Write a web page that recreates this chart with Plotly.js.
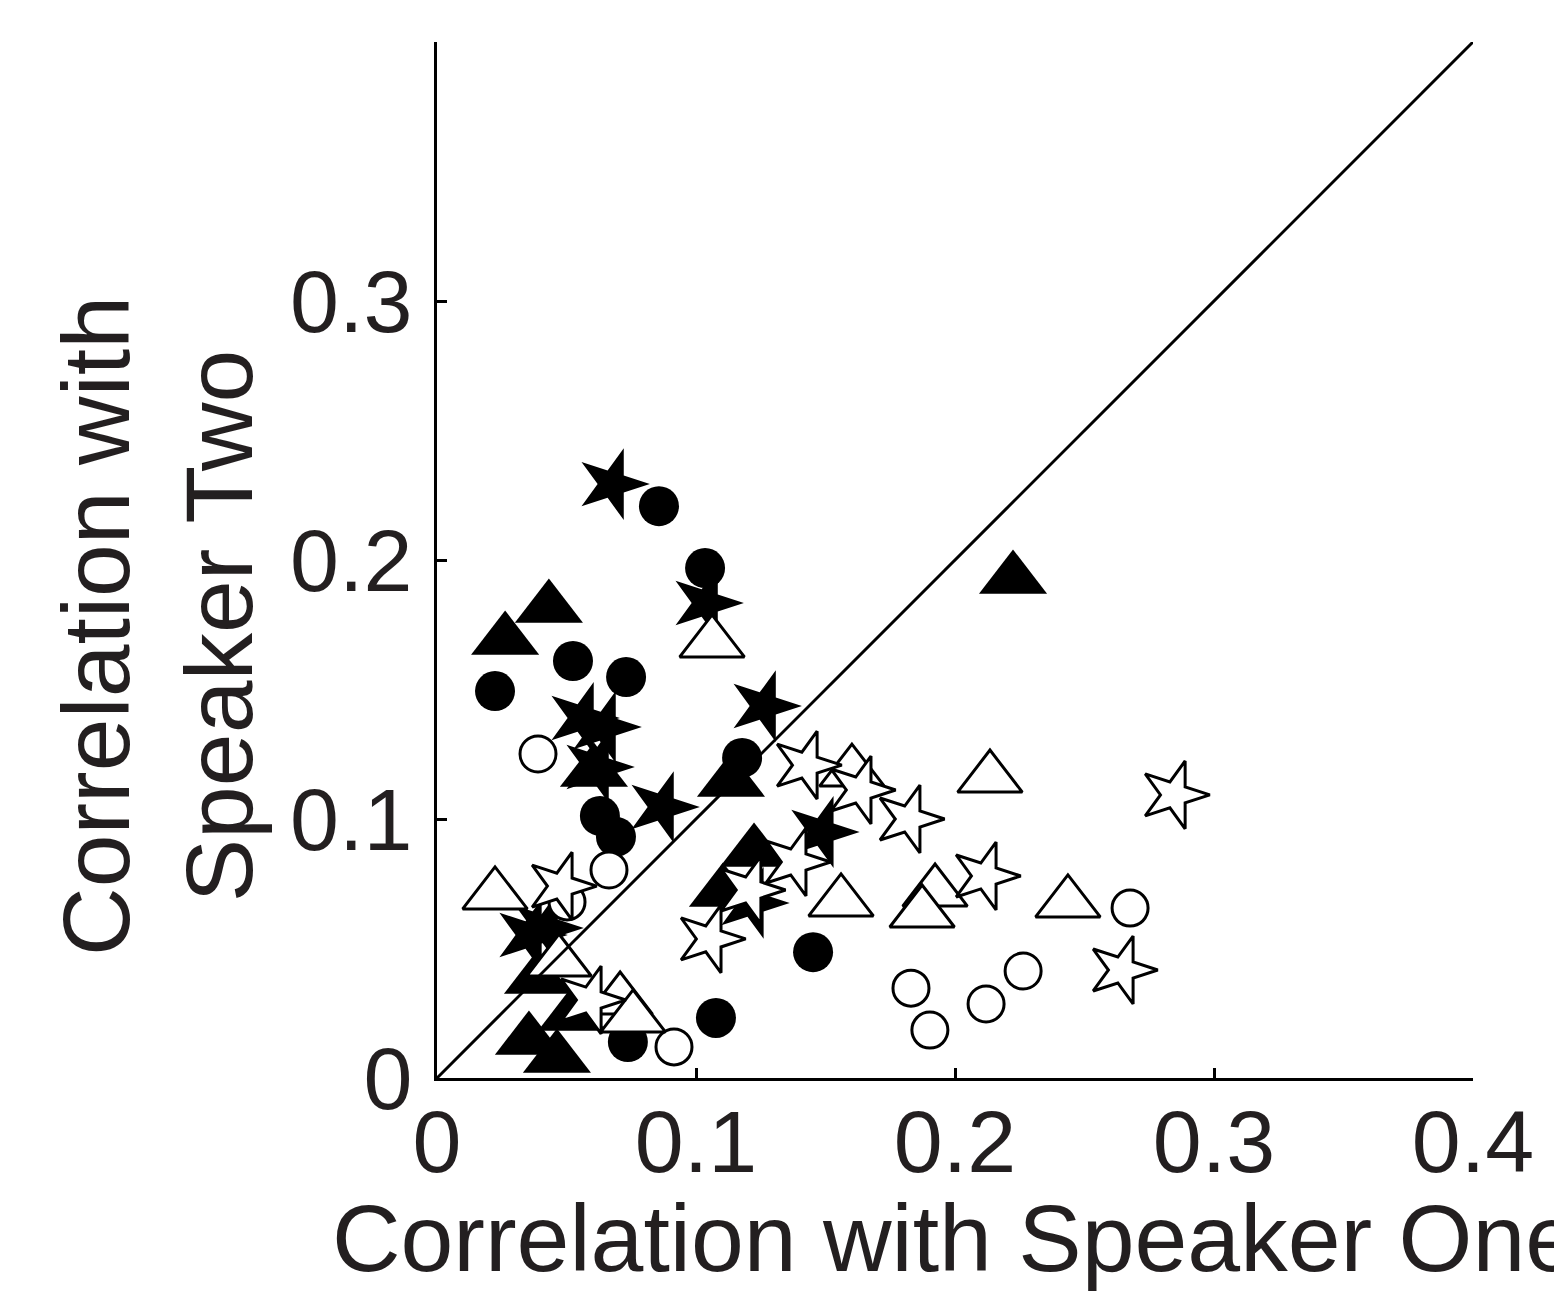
<!DOCTYPE html>
<html>
<head>
<meta charset="utf-8">
<script src="https://cdn.plot.ly/plotly-3.0.1.min.js"></script>
<style>html,body{margin:0;padding:0;background:#fff;}#chart{width:1554px;height:1291px;}</style>
</head>
<body>
<div id="chart"></div>
<script>
// Filled circles
const filledCircleX = [0.0857, 0.1035, 0.0525, 0.0730, 0.0224, 0.1178, 0.0629, 0.0691, 0.1452, 0.1077, 0.0737];
const filledCircleY = [0.2208, 0.1969, 0.1610, 0.1548, 0.1494, 0.1236, 0.1012, 0.0931, 0.0486, 0.0232, 0.0139];
// Filled triangles
const filledTriX = [0.0432, 0.0263, 0.0606, 0.1135, 0.1224, 0.1104, 0.2224, 0.0355, 0.0463, 0.0521, 0.0390];
const filledTriY = [0.1815, 0.1691, 0.1181, 0.1143, 0.0873, 0.0718, 0.1927, 0.0147, 0.0077, 0.0239, 0.0382];
// Filled stars
const filledStarX = [0.0676, 0.1039, 0.0560, 0.0645, 0.0618, 0.0869, 0.1263, 0.1486, 0.1216, 0.0359, 0.0421];
const filledStarY = [0.2293, 0.1834, 0.1390, 0.1355, 0.1201, 0.1046, 0.1436, 0.0950, 0.0676, 0.0552, 0.0579];
// Open circles
const openCircleX = [0.0390, 0.0664, 0.0502, 0.0915, 0.1830, 0.1903, 0.2120, 0.2263, 0.2676];
const openCircleY = [0.1251, 0.0803, 0.0680, 0.0120, 0.0347, 0.0185, 0.0286, 0.0413, 0.0656];
// Open triangles
const openTriX = [0.1062, 0.2135, 0.1602, 0.1560, 0.1923, 0.1873, 0.2436, 0.0224, 0.0471, 0.0707, 0.0757];
const openTriY = [0.1680, 0.1158, 0.1181, 0.0680, 0.0718, 0.0637, 0.0676, 0.0707, 0.0448, 0.0301, 0.0232];
// Open stars
const openStarX = [0.0591, 0.2846, 0.2645, 0.2116, 0.1822, 0.1633, 0.1425, 0.1054, 0.1382, 0.1208, 0.0479];
const openStarY = [0.0301, 0.1093, 0.0417, 0.0780, 0.1000, 0.1112, 0.1208, 0.0537, 0.0834, 0.0726, 0.0741];
// Identity line
const diagX = [0, 0.4];
const diagY = [0, 0.4];
// Ticks
const xTickVals = [0, 0.1, 0.2, 0.3, 0.4];
const xTickText = ['0', '0.1', '0.2', '0.3', '0.4'];
const yTickVals = [0, 0.1, 0.2, 0.3, 0.4];
const yTickText = ['0', '0.1', '0.2', '0.3', ''];

const INK = '#231f20';
function filled(x, y, symbol, size, angle) {
  return {x: x, y: y, type: 'scatter', mode: 'markers', cliponaxis: false, hoverinfo: 'skip',
    marker: {symbol: symbol, size: size, angle: angle || 0, color: '#000', line: {width: 0}}};
}
function open(x, y, symbol, size, angle) {
  return {x: x, y: y, type: 'scatter', mode: 'markers', cliponaxis: false, hoverinfo: 'skip',
    marker: {symbol: symbol, size: size, angle: angle || 0, color: '#fff', line: {color: '#000', width: 3}}};
}
const traces = [
  filled(filledCircleX, filledCircleY, 'circle', 40),
  filled(filledTriX, filledTriY, 'triangle-up', 59),
  filled(filledStarX, filledStarY, 'star', 54, 90),
  open(openCircleX, openCircleY, 'circle', 36),
  open(openTriX, openTriY, 'triangle-up', 56),
  open(openStarX, openStarY, 'star', 51, 90),
  {x: diagX, y: diagY, type: 'scatter', mode: 'lines', cliponaxis: false, hoverinfo: 'skip',
   line: {color: '#000', width: 3}}
];
const pad = '\u00a0\u00a0\u00a0\u00a0\u00a0\u200b';
const layout = {
  width: 1554, height: 1291,
  margin: {l: 437, r: 81, t: 42, b: 213, pad: 0},
  paper_bgcolor: '#fff', plot_bgcolor: '#fff',
  showlegend: false,
  font: {family: '"Liberation Sans", Arial, Helvetica, sans-serif', color: INK},
  xaxis: {
    range: [0, 0.4], tickvals: xTickVals, ticktext: xTickText,
    showline: true, linecolor: '#000', linewidth: 3, mirror: false,
    ticks: 'inside', ticklen: 10, tickwidth: 3, tickcolor: '#000',
    showgrid: false, zeroline: false, fixedrange: true,
    tickfont: {size: 88, color: INK}, ticklabelstandoff: -15,
    title: {text: 'Correlation with Speaker One', font: {size: 95, color: INK}, standoff: 30}
  },
  yaxis: {
    range: [0, 0.4], tickvals: yTickVals, ticktext: yTickText,
    showline: true, linecolor: '#000', linewidth: 3, mirror: false,
    ticks: 'inside', ticklen: 10, tickwidth: 3, tickcolor: '#000',
    showgrid: false, zeroline: false, fixedrange: true,
    tickfont: {size: 88, color: INK}, ticklabelstandoff: 4,
    title: {text: 'Correlation with' + pad + '<br>Speaker Two' + pad, font: {size: 95, color: INK}, standoff: 6}
  }
};
Plotly.newPlot('chart', traces, layout, {displayModeBar: false, staticPlot: true});
</script>
</body>
</html>
